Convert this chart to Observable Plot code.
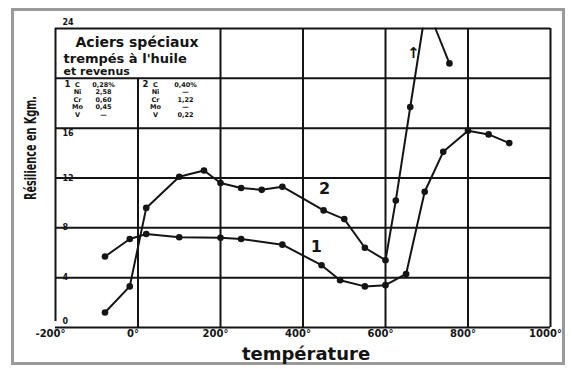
<!DOCTYPE html>
<html><head><meta charset="utf-8">
<script src="https://cdn.jsdelivr.net/npm/d3@7"></script>
<script src="https://cdn.jsdelivr.net/npm/@observablehq/plot@0.6"></script>
<style>
body{margin:0;background:#fff;}
#chart{width:573px;height:369px;}
</style></head><body><div id="chart"></div>
<script>
// ---- data ----
const temp1 = [-80,-20,20,100,200,250,350,445,490,550,600,650,695,740,800,850,900];
const res1  = [5.7,7.1,7.5,7.25,7.2,7.1,6.65,5.0,3.8,3.3,3.4,4.3,10.9,14.1,15.8,15.5,14.8];
const temp2 = [-80,-20,20,100,160,200,250,300,350,450,500,550,600,625,660];
const res2  = [1.2,3.3,9.6,12.1,12.6,11.6,11.2,11.05,11.3,9.4,8.7,6.4,5.4,10.2,17.7];
// curve 2 leaves the top edge, and a short piece comes back into view
const exitTemp2 = [660, 690];
const exitRes2  = [17.7, 24];
const returnTemp2 = [721, 755];
const returnRes2  = [24, 21.2];

const xTicks = [-200,0,200,400,600,800,1000];
const xTickLabels = ["-200°","0°","200°","400°","600°","800°","1000°"];
const yGrid = [0,4,8,12,16,20,24];
const yTicksMid = [4,8,12];
const yTicksLow = [16];
const yTicksEdge = [0,24];

const legendTitle = ["Aciers spéciaux","trempés à l'huile","et revenus"];
const elements = ["C","Ni","Cr","Mo","V"];
const steel1 = ["0,28%","2,58","0,60","0,45","—"];
const steel2 = ["0,40%","—","1,22","—","0,22"];
const curveNames = ["1","2"];

// ---- build tables ----
const c1 = temp1.map((t,i)=>({t, r:res1[i]}));
const c2 = temp2.map((t,i)=>({t, r:res2[i]}));
const e2 = exitTemp2.map((t,i)=>({t, r:exitRes2[i]}));
const b2 = returnTemp2.map((t,i)=>({t, r:returnRes2[i]}));
const ink = "#141414";
const F = "DejaVu Sans";

const rowY = [56,63.5,71,78.5,86.5]; // px offsets below frame top
const TL = {frameAnchor:"top-left", lineAnchor:"middle", textAnchor:"start", fontWeight:"bold", fontFamily:F, fill:ink};

const marks = [
  Plot.ruleY(yGrid, {x1:-200, x2:1000, stroke:ink, strokeWidth:2}),
  Plot.ruleX(xTicks.filter(d=>d!==-200), {y1:0, y2:d=>d===0?20:24, stroke:ink, strokeWidth:2}),
  Plot.ruleX([-200], {y1:0, y2:24, insetTop:-6, stroke:ink, strokeWidth:2}),
  // curves
  Plot.line(c1, {x:"t", y:"r", stroke:ink, strokeWidth:2}),
  Plot.line(c2, {x:"t", y:"r", stroke:ink, strokeWidth:2}),
  Plot.line(e2, {x:"t", y:"r", stroke:ink, strokeWidth:2}),
  Plot.line(b2, {x:"t", y:"r", stroke:ink, strokeWidth:2}),
  Plot.dot(c1, {x:"t", y:"r", r:3.3, fill:ink}),
  Plot.dot(c2, {x:"t", y:"r", r:3.3, fill:ink}),
  Plot.dot(b2.slice(1), {x:"t", y:"r", r:3.3, fill:ink}),
  // curve labels
  Plot.text([curveNames[0]], {x:432, y:6.5, fontSize:16, fontWeight:"bold", fontFamily:F, fill:ink}),
  Plot.text([curveNames[1]], {x:452, y:11.1, fontSize:16, fontWeight:"bold", fontFamily:F, fill:ink}),
  Plot.text(["\u2191\uFE0E"], {x:668, y:22, fontSize:15, fontWeight:"bold", fontFamily:F, fill:ink}),
  // x tick labels
  Plot.text(xTicks, {x:d=>d, frameAnchor:"bottom", dy:9, dx:-5, text:(d,i)=>xTickLabels[i], fontSize:10, fontWeight:"bold", fontFamily:F, fill:ink}),
  // y tick labels
  Plot.text(yTicksMid, {x:-200, y:d=>d, dx:7, textAnchor:"start", text:d=>String(d), fontSize:8, fontWeight:"bold", fontFamily:F, fill:ink}),
  Plot.text(yTicksLow, {x:-200, y:d=>d, dx:7, dy:5, textAnchor:"start", text:d=>String(d), fontSize:8, fontWeight:"bold", fontFamily:F, fill:ink}),
  Plot.text(yTicksEdge, {x:-200, y:d=>d, dx:7, dy:-6, textAnchor:"start", text:d=>String(d), fontSize:8, fontWeight:"bold", fontFamily:F, fill:ink}),
  // axis titles
  Plot.text(["température"], {frameAnchor:"bottom", lineAnchor:"middle", dy:27, dx:3, fontSize:18, fontWeight:"bold", fontFamily:F, fill:ink, letterSpacing:"1.2px"}),
  Plot.text(["Résilience en Kgm."], {frameAnchor:"left", textAnchor:"middle", lineAnchor:"middle", dx:-24, dy:-30, rotate:-90, fontSize:13, fontWeight:"bold", fontFamily:F, fill:ink}),
  // legend block
  Plot.text([legendTitle[0]], {...TL, dx:20, dy:14, fontSize:14, letterSpacing:"1px"}),
  Plot.text([legendTitle[1]], {...TL, dx:8, dy:30, fontSize:13, letterSpacing:"1.5px"}),
  Plot.text([legendTitle[2]], {...TL, dx:8, dy:43, fontSize:11, letterSpacing:"1.8px"}),
  Plot.text([curveNames[0]], {...TL, dx:9, dy:rowY[0], fontSize:8.5}),
  Plot.text([curveNames[1]], {...TL, dx:87, dy:rowY[0], fontSize:8.5}),
];
elements.forEach((el,i)=>{
  const o = {...TL, dy:rowY[i], fontSize:6.5, textAnchor:"middle"};
  marks.push(Plot.text([el], {...o, dx:22}));
  marks.push(Plot.text([steel1[i]], {...o, dx:48}));
  marks.push(Plot.text([el], {...o, dx:100}));
  marks.push(Plot.text([steel2[i]], {...o, dx:130}));
});

const chart = Plot.plot({
  width:573, height:369,
  marginLeft:55, marginRight:23, marginTop:28, marginBottom:42,
  x:{domain:[-200,1000], axis:null},
  y:{domain:[0,24], axis:null},
  style:{background:"#fff"},
  marks
});
d3.select(chart).selectAll("text").filter(function(){ return this.textContent === "Résilience en Kgm."; })
  .attr("textLength", 104).attr("lengthAdjust", "spacingAndGlyphs").style("font-size", "15px");
d3.select(chart).insert("rect", ":first-child")
  .attr("x",12.5).attr("y",9.5).attr("width",551).attr("height",354)
  .attr("fill","none").attr("stroke","#9a9a9a").attr("stroke-width",3);
document.getElementById("chart").appendChild(chart);
</script></body></html>
